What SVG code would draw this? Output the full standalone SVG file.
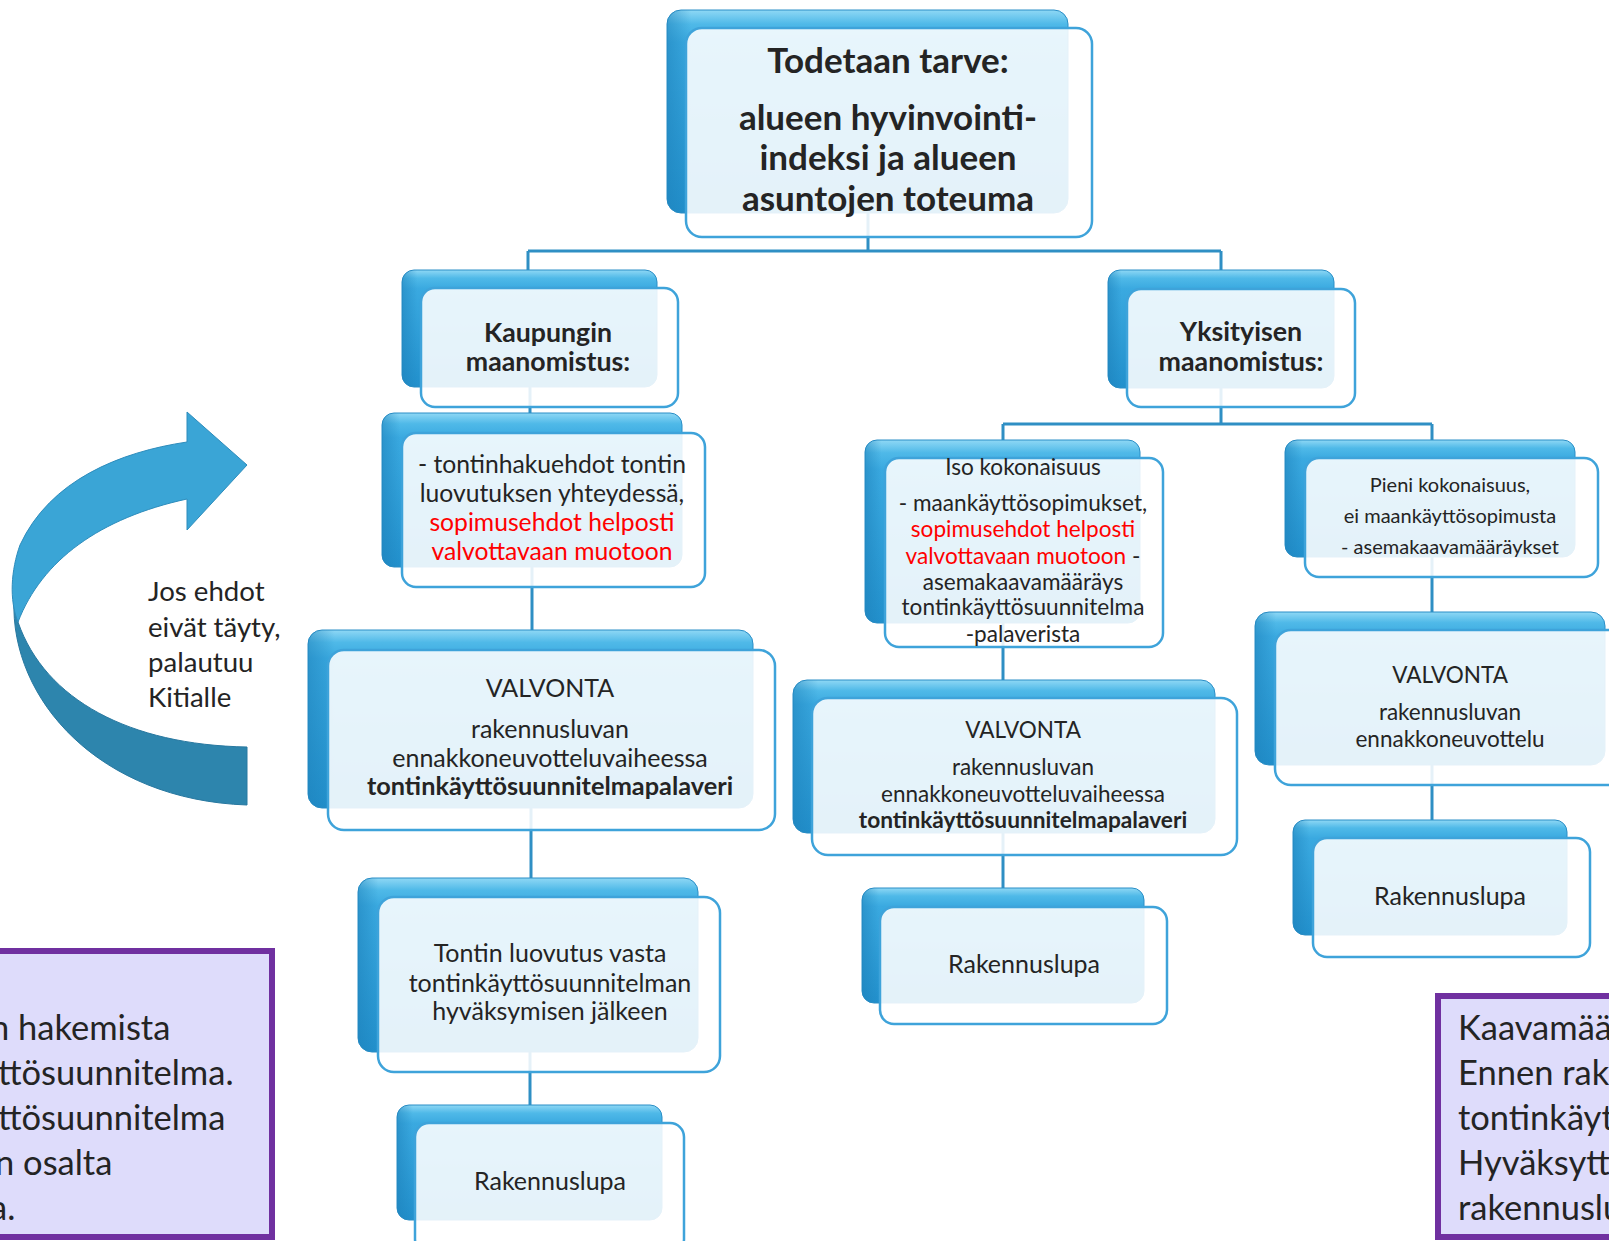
<svg xmlns="http://www.w3.org/2000/svg" width="1609" height="1241" viewBox="0 0 1609 1241">
<defs>
<linearGradient id="backg" x1="0" y1="0" x2="0" y2="1">
<stop offset="0" stop-color="#8fd8f5"/>
<stop offset="0.07" stop-color="#4fb9e8"/>
<stop offset="0.16" stop-color="#3aa9e0"/>
<stop offset="1" stop-color="#2290cc"/>
</linearGradient>
<linearGradient id="backh" x1="0" y1="0" x2="1" y2="0">
<stop offset="0" stop-color="#1c7fb8" stop-opacity="0.5"/>
<stop offset="0.06" stop-color="#1c7fb8" stop-opacity="0"/>
<stop offset="1" stop-color="#1c7fb8" stop-opacity="0"/>
</linearGradient>
<style>
.back{fill:url(#backg);stroke:#2a8ec6;stroke-width:1}
.front{fill:#ffffff;fill-opacity:0.88;stroke:#3ea3da;stroke-width:2.5}
.t{font-family:Lato,"Open Sans","Liberation Sans",sans-serif;fill:#242424;text-anchor:middle}
.b{font-weight:bold}
.red{fill:#ff0000}
.conn{fill:none;stroke:#2f8fc4;stroke-width:3}
.purple{fill:#dedcfb;stroke:#7030a0;stroke-width:6}
.pt{font-family:Lato,"Open Sans","Liberation Sans",sans-serif;fill:#242424;font-size:34.5px}
.jt{font-family:Lato,"Open Sans","Liberation Sans",sans-serif;fill:#242424;font-size:27.6px}
</style>
</defs>
<rect x="0" y="0" width="1609" height="1241" fill="#ffffff"/>

<g id="connectors">
<path class="conn" d="M868,200 V251 M528,251 H1221 M528,251 V300 M1221,251 V300"/>
<path class="conn" d="M530,380 V450"/>
<path class="conn" d="M532,560 V670"/>
<path class="conn" d="M531,800 V910"/>
<path class="conn" d="M530,1050 V1130"/>
<path class="conn" d="M1221,380 V424 M1003,424 H1432 M1003,424 V470 M1432,424 V470"/>
<path class="conn" d="M1003,610 V710"/>
<path class="conn" d="M1003,820 V920"/>
<path class="conn" d="M1432,550 V640"/>
<path class="conn" d="M1432,760 V850"/>
</g>

<g id="n-top">
<rect class="back" x="667" y="10" width="401" height="203" rx="14"/>
<rect x="667" y="10" width="401" height="203" rx="14" fill="url(#backh)"/>
<rect class="front" x="686" y="28" width="406" height="209" rx="16"/>
<text class="t b" x="888" y="73" font-size="35">Todetaan tarve:</text>
<text class="t b" x="888" y="130" font-size="35">alueen hyvinvointi-</text>
<text class="t b" x="888" y="170" font-size="35">indeksi ja alueen</text>
<text class="t b" x="888" y="211" font-size="35">asuntojen toteuma</text>
</g>

<g id="n-kaup">
<rect class="back" x="402" y="270" width="255" height="117" rx="12"/>
<rect x="402" y="270" width="255" height="117" rx="12" fill="url(#backh)"/>
<rect class="front" x="421" y="288" width="257" height="119" rx="14"/>
<text class="t b" x="548" y="342" font-size="26.7">Kaupungin</text>
<text class="t b" x="548" y="371" font-size="26.7">maanomistus:</text>
</g>

<g id="n-tontinhaku">
<rect class="back" x="382" y="413" width="300" height="154" rx="12"/>
<rect x="382" y="413" width="300" height="154" rx="12" fill="url(#backh)"/>
<rect class="front" x="402" y="433" width="303" height="154" rx="14"/>
<text class="t" x="552" y="473" font-size="24.7">- tontinhakuehdot tontin</text>
<text class="t" x="552" y="502" font-size="24.7">luovutuksen yhteydessä,</text>
<text class="t red" x="552" y="531" font-size="24.7">sopimusehdot helposti</text>
<text class="t red" x="552" y="560" font-size="24.7">valvottavaan muotoon</text>
</g>

<g id="n-valvonta-left">
<rect class="back" x="308" y="630" width="445" height="178" rx="14"/>
<rect x="308" y="630" width="445" height="178" rx="14" fill="url(#backh)"/>
<rect class="front" x="328" y="650" width="447" height="180" rx="16"/>
<text class="t" x="550" y="697" font-size="25">VALVONTA</text>
<text class="t" x="550" y="738" font-size="25">rakennusluvan</text>
<text class="t" x="550" y="767" font-size="25">ennakkoneuvotteluvaiheessa</text>
<text class="t b" x="550" y="795" font-size="25.3">tontinkäyttösuunnitelmapalaveri</text>
</g>

<g id="n-tontin">
<rect class="back" x="358" y="878" width="340" height="174" rx="14"/>
<rect x="358" y="878" width="340" height="174" rx="14" fill="url(#backh)"/>
<rect class="front" x="378" y="897" width="342" height="175" rx="16"/>
<text class="t" x="550" y="962" font-size="25">Tontin luovutus vasta</text>
<text class="t" x="550" y="992" font-size="25">tontinkäyttösuunnitelman</text>
<text class="t" x="550" y="1020" font-size="25">hyväksymisen jälkeen</text>
</g>

<g id="n-rak-left">
<rect class="back" x="397" y="1105" width="265" height="115" rx="12"/>
<rect x="397" y="1105" width="265" height="115" rx="12" fill="url(#backh)"/>
<rect class="front" x="415" y="1123" width="269" height="130" rx="14"/>
<text class="t" x="550" y="1190" font-size="25">Rakennuslupa</text>
</g>

<g id="n-yks">
<rect class="back" x="1108" y="270" width="226" height="118" rx="12"/>
<rect x="1108" y="270" width="226" height="118" rx="12" fill="url(#backh)"/>
<rect class="front" x="1127" y="289" width="228" height="118" rx="14"/>
<text class="t b" x="1241" y="341" font-size="26.8">Yksityisen</text>
<text class="t b" x="1241" y="371" font-size="26.8">maanomistus:</text>
</g>

<g id="n-iso">
<rect class="back" x="865" y="440" width="275" height="183" rx="12"/>
<rect x="865" y="440" width="275" height="183" rx="12" fill="url(#backh)"/>
<rect class="front" x="885" y="458" width="278" height="189" rx="14"/>
<text class="t" x="1023" y="475" font-size="22.6">Iso kokonaisuus</text>
<text class="t" x="1023" y="511" font-size="22.6">- maankäyttösopimukset,</text>
<text class="t red" x="1023" y="537" font-size="22.6">sopimusehdot helposti</text>
<text class="t" x="1023" y="564" font-size="22.6"><tspan class="red">valvottavaan muotoon</tspan> -</text>
<text class="t" x="1023" y="590" font-size="22.6">asemakaavamääräys</text>
<text class="t" x="1023" y="615" font-size="22.6">tontinkäyttösuunnitelma</text>
<text class="t" x="1023" y="642" font-size="22.6">-palaverista</text>
</g>

<g id="n-pieni">
<rect class="back" x="1285" y="440" width="290" height="117" rx="12"/>
<rect x="1285" y="440" width="290" height="117" rx="12" fill="url(#backh)"/>
<rect class="front" x="1305" y="458" width="293" height="119" rx="14"/>
<text class="t" x="1450" y="492" font-size="20">Pieni kokonaisuus,</text>
<text class="t" x="1450" y="523" font-size="20">ei maankäyttösopimusta</text>
<text class="t" x="1450" y="554" font-size="20">- asemakaavamääräykset</text>
</g>

<g id="n-valvonta-mid">
<rect class="back" x="793" y="680" width="422" height="153" rx="14"/>
<rect x="793" y="680" width="422" height="153" rx="14" fill="url(#backh)"/>
<rect class="front" x="812" y="698" width="425" height="157" rx="16"/>
<text class="t" x="1023" y="738" font-size="22.5">VALVONTA</text>
<text class="t" x="1023" y="775" font-size="22.5">rakennusluvan</text>
<text class="t" x="1023" y="802" font-size="22.5">ennakkoneuvotteluvaiheessa</text>
<text class="t b" x="1023" y="828" font-size="22.7">tontinkäyttösuunnitelmapalaveri</text>
</g>

<g id="n-rak-mid">
<rect class="back" x="862" y="888" width="282" height="115" rx="12"/>
<rect x="862" y="888" width="282" height="115" rx="12" fill="url(#backh)"/>
<rect class="front" x="880" y="907" width="287" height="117" rx="14"/>
<text class="t" x="1024" y="973" font-size="25">Rakennuslupa</text>
</g>

<g id="n-valvonta-right">
<rect class="back" x="1255" y="612" width="350" height="153" rx="14"/>
<rect x="1255" y="612" width="350" height="153" rx="14" fill="url(#backh)"/>
<rect class="front" x="1275" y="630" width="360" height="155" rx="16"/>
<text class="t" x="1450" y="683" font-size="22.5">VALVONTA</text>
<text class="t" x="1450" y="720" font-size="22.5">rakennusluvan</text>
<text class="t" x="1450" y="747" font-size="22.5">ennakkoneuvottelu</text>
</g>

<g id="n-rak-right">
<rect class="back" x="1293" y="820" width="274" height="115" rx="12"/>
<rect x="1293" y="820" width="274" height="115" rx="12" fill="url(#backh)"/>
<rect class="front" x="1313" y="838" width="277" height="119" rx="14"/>
<text class="t" x="1450" y="905" font-size="25">Rakennuslupa</text>
</g>

<g id="return-arrow">
<path d="M14,600 C10,700 100,800 247,805 L247,747 C130,745 45,700 18,622 Z" fill="#2d85ad" stroke="#2878a0" stroke-width="1"/>
<path d="M187,442 L187,412 L247,465 L187,530 L187,499 C100,518 42,560 18,622 C9,600 11,570 20,545 C50,480 120,452 187,442 Z" fill="#3aa5d6" stroke="#2d8cbc" stroke-width="1"/>
<text class="jt" x="148" y="601">Jos ehdot</text>
<text class="jt" x="148" y="637">eivät täyty,</text>
<text class="jt" x="148" y="672">palautuu</text>
<text class="jt" x="148" y="707">Kitialle</text>
</g>

<g id="note-left">
<rect class="purple" x="-20" y="951" width="292" height="286"/>
<text class="pt" x="-10" y="1040">n hakemista</text>
<text class="pt" x="-2" y="1085">ttösuunnitelma.</text>
<text class="pt" x="-2" y="1130">ttösuunnitelma</text>
<text class="pt" x="-5" y="1175">n osalta</text>
<text class="pt" x="-10" y="1220">a.</text>
</g>

<g id="note-right">
<rect class="purple" x="1438" y="996" width="200" height="241"/>
<text class="pt" x="1458" y="1040">Kaavamää</text>
<text class="pt" x="1458" y="1085">Ennen rak</text>
<text class="pt" x="1458" y="1130">tontinkäyt</text>
<text class="pt" x="1458" y="1175">Hyväksytt</text>
<text class="pt" x="1458" y="1220">rakennuslu</text>
</g>
</svg>
